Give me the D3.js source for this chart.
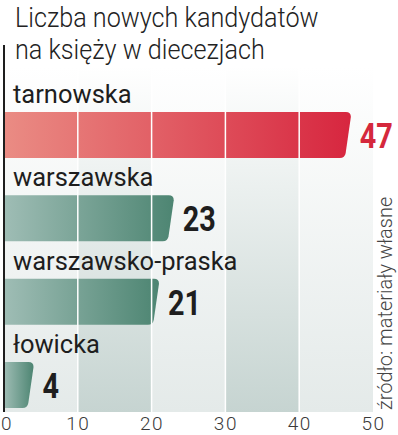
<!DOCTYPE html>
<html>
<head>
<meta charset="utf-8">
<script src="https://cdn.jsdelivr.net/npm/d3@7"></script>
<style>
  body { margin: 0; background: #fff; }
  svg { display: block; font-family: Roboto, sans-serif; }
</style>
</head>
<body>
<div id="chart"></div>
<script>
// chart data
const categories = ["tarnowska", "warszawska", "warszawsko-praska", "łowicka"];
const values = [47, 23, 21, 4];
const ticks = [0, 10, 20, 30, 40, 50];
const titleLines = ["Liczba nowych kandydatów", "na księży w diecezjach"];
const source = "źródło: materiały własne";

const width = 398;
const height = 435;

const svg = d3.select("#chart")
  .append("svg")
  .attr("width", width)
  .attr("height", height);

const defs = svg.append("defs");

// bar gradients (left light, right saturated)
const redGrad = defs.append("linearGradient").attr("id", "red-grad");
redGrad.append("stop").attr("offset", "0%").attr("stop-color", "#ea8c84");
redGrad.append("stop").attr("offset", "100%").attr("stop-color", "#d7263f");

const greenGrad = defs.append("linearGradient").attr("id", "green-grad");
greenGrad.append("stop").attr("offset", "0%").attr("stop-color", "#9fbdb5");
greenGrad.append("stop").attr("offset", "100%").attr("stop-color", "#4d8572");

// background bands fade from white at top
const lightBand = defs.append("linearGradient").attr("id", "band-light")
  .attr("x1", 0).attr("y1", 0).attr("x2", 0).attr("y2", 1);
lightBand.append("stop").attr("offset", "0%").attr("stop-color", "#ffffff");
lightBand.append("stop").attr("offset", "100%").attr("stop-color", "#e4eae9");

const darkBand = defs.append("linearGradient").attr("id", "band-dark")
  .attr("x1", 0).attr("y1", 0).attr("x2", 0).attr("y2", 1);
darkBand.append("stop").attr("offset", "0%").attr("stop-color", "#ffffff");
darkBand.append("stop").attr("offset", "100%").attr("stop-color", "#c6d4d1");

// scales
const x = d3.scaleLinear().domain([0, 50]).range([4, 373]);
const y = d3.scaleBand().domain(categories).range([79, 412.3]);

const plotTop = 66;
const plotBottom = 412;
const barOffset = 33;
const barHeight = 46;

// background bands
svg.append("g")
  .selectAll("rect")
  .data(d3.range(ticks.length - 1))
  .join("rect")
    .attr("x", i => x(ticks[i]))
    .attr("y", plotTop)
    .attr("width", i => x(ticks[i + 1]) - x(ticks[i]))
    .attr("height", plotBottom - plotTop)
    .attr("fill", i => i % 2 === 1 ? "url(#band-dark)" : "url(#band-light)");

// bar shape: rounded slanted right end
function barPath(x0, x1, top, h) {
  const r = 5, s = 6;
  const bottom = top + h;
  return `M${x0},${top} L${x1 - r},${top} Q${x1},${top} ${x1},${top + r}` +
    ` L${x1 - s + 0.8},${bottom - r} Q${x1 - s},${bottom} ${x1 - s - r},${bottom}` +
    ` L${x0},${bottom} Z`;
}

svg.append("g")
  .selectAll("path")
  .data(categories)
  .join("path")
    .attr("d", (d, i) => barPath(x(0), x(values[i]), y(d) + barOffset, barHeight))
    .attr("fill", (d, i) => i === 0 ? "url(#red-grad)" : "url(#green-grad)");

// white gridlines over bands and bars
svg.append("g")
  .selectAll("line")
  .data(ticks.slice(1, -1))
  .join("line")
    .attr("x1", d => x(d))
    .attr("x2", d => x(d))
    .attr("y1", plotTop)
    .attr("y2", plotBottom)
    .attr("stroke", "#fff")
    .attr("stroke-width", 1.5);

// category labels
svg.append("g")
  .selectAll("text")
  .data(categories)
  .join("text")
    .attr("x", 13)
    .attr("y", d => y(d) + 24)
    .attr("font-size", 25.5)
    .attr("fill", "#1e1e1e")
    .text(d => d);

// value labels
svg.append("g")
  .selectAll("text")
  .data(categories)
  .join("text")
    .attr("transform", (d, i) => `translate(${x(values[i]) + 9},${y(d) + barOffset + barHeight / 2 + 13}) scale(0.8,1)`)
    .attr("font-size", 36)
    .attr("font-weight", 700)
    .attr("fill", (d, i) => i === 0 ? "#d5283c" : "#1e1e1e")
    .text((d, i) => values[i]);

// vertical axis line
svg.append("line")
  .attr("x1", x(0)).attr("x2", x(0))
  .attr("y1", 45).attr("y2", plotBottom)
  .attr("stroke", "#1e1e1e")
  .attr("stroke-width", 2);

// x axis labels
const xAxis = svg.append("g")
  .attr("transform", `translate(0,${plotBottom})`)
  .call(d3.axisBottom(x).tickValues(ticks).tickSize(0).tickPadding(5));
xAxis.select(".domain").remove();
xAxis.selectAll("text")
  .attr("font-family", "Roboto, sans-serif")
  .attr("font-size", 19)
  .attr("font-weight", 300)
  .attr("letter-spacing", 1.5)
  .attr("fill", "#3a3a3a")
  .attr("dx", d => d === 0 ? 2.5 : 0);

// title (condensed a bit to match the original face)
svg.append("g")
  .selectAll("text")
  .data(titleLines)
  .join("text")
    .attr("transform", (d, i) => `translate(15,${27 + i * 32}) scale(0.9,1)`)
    .attr("font-size", 28)
    .attr("font-weight", 300)
    .attr("fill", "#222")
    .text(d => d);

// source, rotated
svg.append("text")
  .attr("transform", "translate(392,410) rotate(-90)")
  .attr("font-size", 20)
  .attr("font-weight", 300)
  .attr("fill", "#444")
  .text(source);
</script>
</body>
</html>
